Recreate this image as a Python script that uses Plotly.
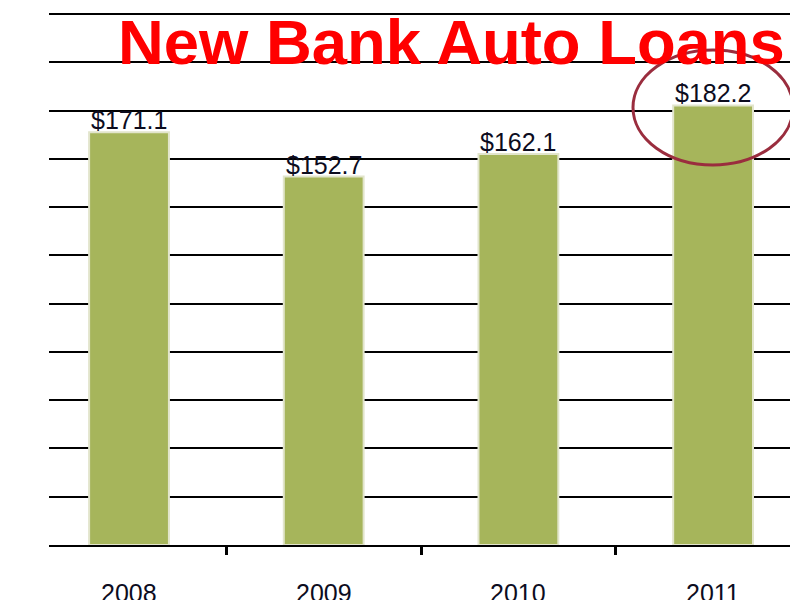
import plotly.graph_objects as go

# Auto loan volume by year (in $ billions)
years = ["2008", "2009", "2010", "2011"]
loans = [171.1, 152.7, 162.1, 182.2]
value_labels = ["$171.1", "$152.7", "$162.1", "$182.2"]

positions = list(range(len(years)))

W, H = 790, 600
L, R, T, B = 49, 0, 13, 55
pw, ph = W - L - R, H - T - B

def px_x(p):
    return (p - L) / pw

def px_y(p):
    return (H - B - p) / ph

fig = go.Figure()
fig.add_trace(go.Bar(
    x=positions,
    y=loans,
    width=0.41,
    marker=dict(color="#a6b55b", line=dict(color="#e2e5cc", width=2)),
))

label_font = dict(family="Liberation Sans", size=25, color="#0c0c1e")

# Value labels sitting on top of each bar
for p, v, txt in zip(positions, loans, value_labels):
    fig.add_annotation(
        x=p, xref="x", y=v, yref="y", yanchor="bottom",
        text=txt, showarrow=False, yshift=-4, font=label_font,
    )

# Year labels under each bar
for p, yr in zip(positions, years):
    fig.add_annotation(
        x=p, xref="x", y=px_y(577), yref="paper",
        text=yr, showarrow=False, yanchor="top", font=label_font,
    )

# Headline
fig.add_annotation(
    x=px_x(116), xref="paper", y=px_y(5), yref="paper",
    xanchor="left", yanchor="top",
    text="<b>New Bank Auto Loans</b>", showarrow=False,
    font=dict(family="Liberation Sans", size=63.4, color="#ff0000"),
)

# Highlight ring around the latest value
fig.add_shape(
    type="circle", xref="paper", yref="paper",
    x0=px_x(633), x1=px_x(793), y0=px_y(165), y1=px_y(50),
    line=dict(color="#9a2d3e", width=3),
    layer="above",
)

fig.update_layout(
    width=W, height=H,
    margin=dict(l=L, r=R, t=T, b=B),
    paper_bgcolor="white", plot_bgcolor="white",
    showlegend=False,
    xaxis=dict(
        range=[-0.411, 3.395],
        tickvals=[0.5, 1.5, 2.5], showticklabels=False,
        ticks="outside", ticklen=8, tickwidth=3, tickcolor="black",
        showgrid=False, zeroline=False,
        showline=True, linecolor="black", linewidth=2,
    ),
    yaxis=dict(
        range=[0, 220.5], tickvals=list(range(20, 221, 20)),
        showgrid=True, gridcolor="black", gridwidth=2,
        showticklabels=False, ticks="", zeroline=False, showline=False,
    ),
)

fig.write_html("out.html")
